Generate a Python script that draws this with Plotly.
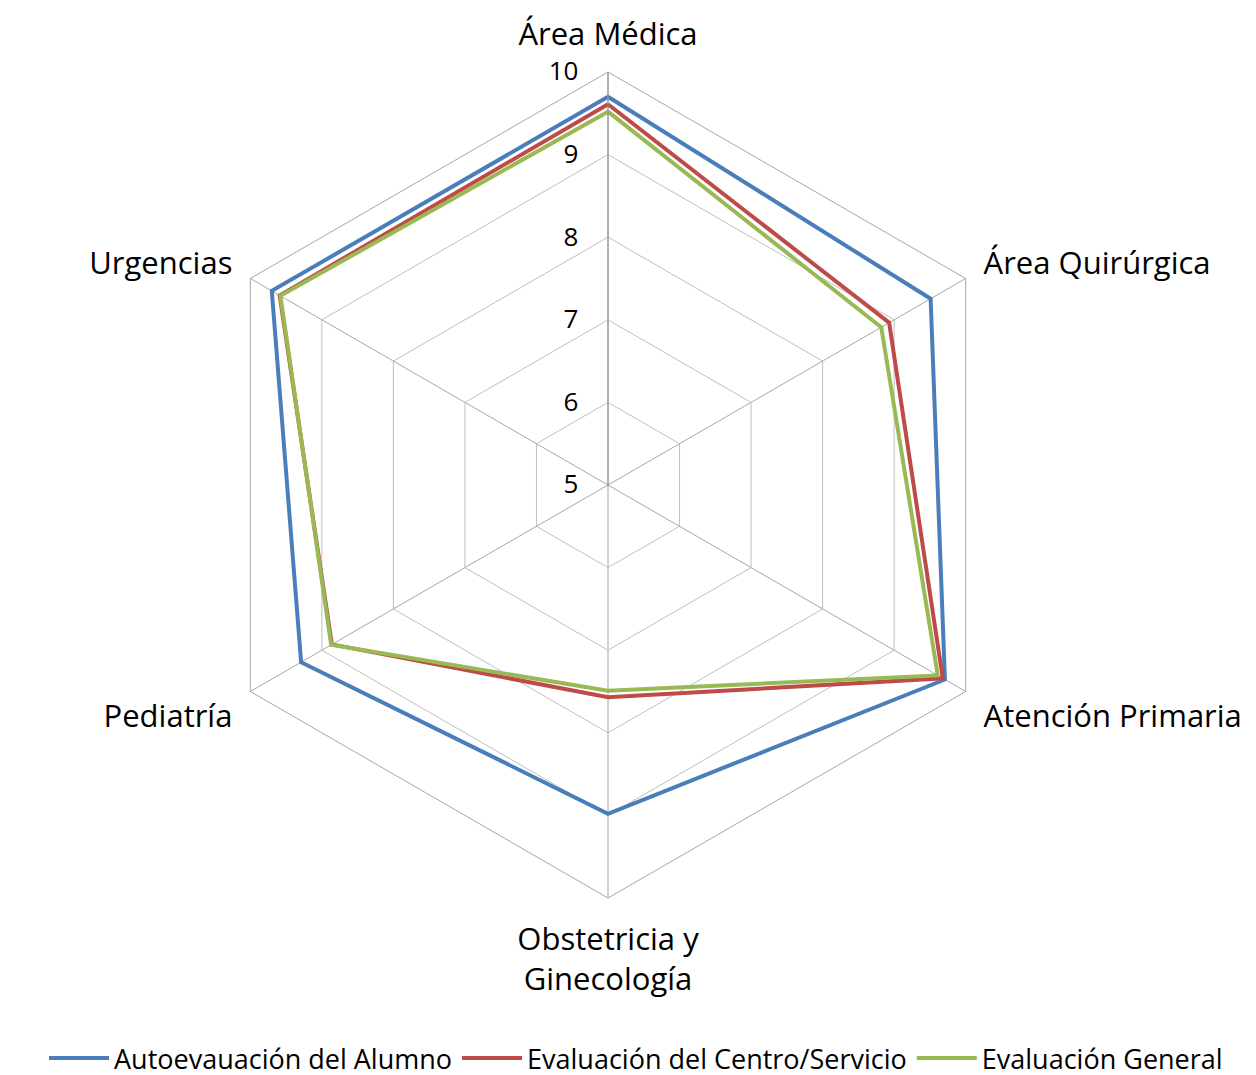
import plotly.graph_objects as go

categories = ["Área Médica", "Área Quirúrgica", "Atención Primaria",
              "Obstetricia y<br>Ginecología", "Pediatría", "Urgencias"]
series_names = ["Autoevauación del Alumno", "Evaluación del Centro/Servicio", "Evaluación General"]
autoevaluacion = [9.70, 9.51, 9.71, 8.98, 9.29, 9.70]
centro_servicio = [9.61, 8.93, 9.68, 7.57, 8.86, 9.59]
general = [9.52, 8.82, 9.61, 7.49, 8.87, 9.58]
colors = ["#4a7ebb", "#be4b48", "#98b954"]
radial_ticks = [5, 6, 7, 8, 9, 10]

fig = go.Figure()
for name, vals, col in zip(series_names, [autoevaluacion, centro_servicio, general], colors):
    fig.add_trace(go.Scatterpolar(
        r=vals + [vals[0]], theta=categories + [categories[0]],
        mode="lines", name=name, line=dict(color=col, width=4)))

W, H = 1256, 1075
cx, cy, R = 600, 477, 413
fig.update_layout(
    width=W, height=H,
    margin=dict(l=0, r=0, t=0, b=0),
    paper_bgcolor="white", plot_bgcolor="white",
    font=dict(family="Open Sans", color="#000000"),
    polar=dict(
        domain=dict(x=[(cx - R) / W, (cx + R) / W], y=[1 - (cy + R) / H, 1 - (cy - R) / H]),
        gridshape="linear",
        bgcolor="white",
        radialaxis=dict(range=[5, 10], tickvals=radial_ticks, angle=90, tickangle=90,
                        side="counterclockwise",
                        showline=True, linecolor="#8c8c8c", linewidth=1,
                        gridcolor="#bfbfbf", gridwidth=1,
                        ticks="outside", ticklen=20, tickcolor="rgba(0,0,0,0)",
                        tickfont=dict(size=26, family="Open Sans", color="#000")),
        angularaxis=dict(rotation=90, direction="clockwise", type="category",
                         categoryarray=categories,
                         showline=True, linecolor="#a6a6a6", linewidth=1,
                         gridcolor="#a6a6a6", gridwidth=1,
                         ticks="outside", ticklen=14, tickcolor="rgba(0,0,0,0)",
                         tickfont=dict(size=31, family="Open Sans", color="#000")),
    ),
    legend=dict(orientation="h", x=0.5, xanchor="center", y=0.0, yanchor="bottom",
                font=dict(size=27, family="Open Sans", color="#000"),
                itemwidth=60),
    showlegend=True,
)
fig.write_html("out.html")
